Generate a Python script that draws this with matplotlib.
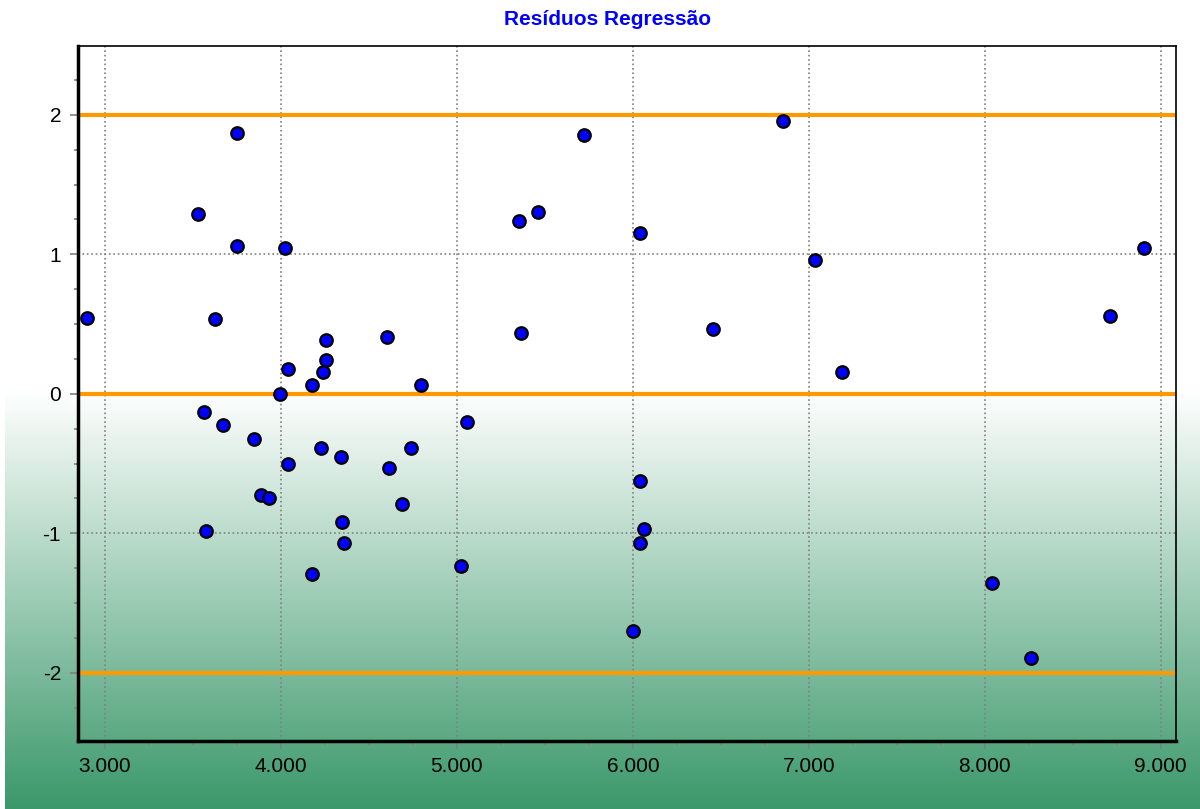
import matplotlib as mpl
import matplotlib.pyplot as plt
import numpy as np
from matplotlib.ticker import MultipleLocator, FuncFormatter

mpl.rc('font', family=['Liberation Sans', 'DejaVu Sans'], size=15)
mpl.rc('axes', unicode_minus=False)

# fitted values (x) and standardized residuals (y)
fitted = [2896, 3529, 3748, 3748, 3627, 4021, 4258, 4601, 4258, 4042,
          4239, 4175, 4796, 3996, 3561, 3669, 3845, 4229, 4340, 4042,
          4612, 4741, 3888, 3932, 4686, 4347, 3572, 4357, 4175, 5724,
          6852, 5353, 5463, 6041, 7035, 5364, 6455, 5059, 6041, 6065,
          6041, 5025, 5999, 7189, 8710, 8907, 8043, 8261]
residuals = [0.545, 1.291, 1.869, 1.057, 0.533, 1.043, 0.383, 0.409, 0.243, 0.175,
             0.158, 0.062, 0.062, -0.004, -0.131, -0.226, -0.325, -0.392, -0.450, -0.504,
             -0.530, -0.392, -0.724, -0.750, -0.793, -0.918, -0.986, -1.068, -1.290, 1.856,
             1.953, 1.236, 1.305, 1.152, 0.958, 0.435, 0.464, -0.201, -0.626, -0.972,
             -1.068, -1.233, -1.700, 0.158, 0.559, 1.042, -1.357, -1.897]
ref_lines = [-2, 0, 2]
title = "Resíduos Regressão"

fig = plt.figure(figsize=(12, 8.09), dpi=100, facecolor="w")

# background: white on top, fading to green towards the bottom
H = 809
grad = np.ones((H, 1, 3))
start = 390
t = np.clip((np.arange(H) - start) / (H - start), 0, 1)
top = np.array([1.0, 1.0, 1.0])
bottom = np.array([58, 152, 106]) / 255.
grad[:, 0, :] = top + t[:, None] * (bottom - top)
bg = fig.add_axes([5 / 1200., 0, 1 - 5 / 1200., 1], zorder=-1)
bg.imshow(grad, aspect="auto", extent=[0, 1, 0, 1], origin="upper")
bg.axis("off")

ax = fig.add_axes([0.0648, 0.0844, 0.9155, 0.8591])
ax.patch.set_alpha(0)

for yv in ref_lines:
    ax.axhline(yv, color="#FF9900", lw=3, zorder=2)

ax.plot(fitted, residuals, "o", ms=9, mfc="#0000FF", mec="k", mew=1.6, zorder=3)

ax.set_xlim(2845, 9089)
ax.set_ylim(-2.487, 2.495)
ax.xaxis.set_major_locator(MultipleLocator(1000))
ax.xaxis.set_minor_locator(MultipleLocator(250))
ax.yaxis.set_major_locator(MultipleLocator(1))
ax.yaxis.set_minor_locator(MultipleLocator(0.25))
ax.xaxis.set_major_formatter(FuncFormatter(lambda v, p: "{:,.0f}".format(v).replace(",", ".")))
ax.yaxis.set_major_formatter(FuncFormatter(lambda v, p: "%d" % round(v)))

ax.grid(True, which="major", color="#808080", ls=":", lw=1.2, zorder=1)
ax.tick_params(which="major", length=6, width=1.2, color="#808080", labelcolor="k", pad=6)
ax.tick_params(which="minor", length=3, width=1.2, color="#808080")

for side in ["left", "bottom"]:
    ax.spines[side].set_linewidth(2.5)
for side in ["top", "right"]:
    ax.spines[side].set_linewidth(1.2)

fig.text(0.506, 0.976, title, color="#0000FF", fontsize=15, fontweight="bold",
         ha="center", va="center")

plt.savefig("out.png", dpi=100)
